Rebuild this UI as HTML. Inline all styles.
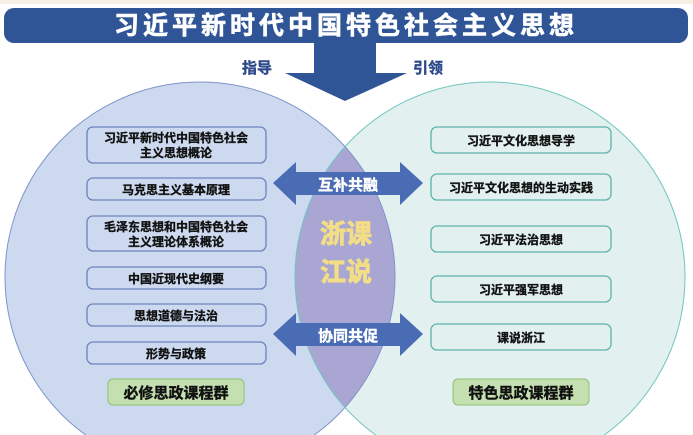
<!DOCTYPE html>
<html><head><meta charset="utf-8"><style>
html,body{margin:0;padding:0;width:693px;height:435px;overflow:hidden;background:#fff;}
svg{display:block;}
svg text{font-family:"Liberation Sans","Noto Sans CJK SC",sans-serif;font-weight:bold;}
</style></head><body><svg width="693" height="435" viewBox="0 0 693 435" xmlns="http://www.w3.org/2000/svg">
<rect x="0" y="0" width="693" height="4" fill="#f7efe6"/>
<path d="M85.7,435 A195,195 0 1 1 314.3,435 Z" fill="#cdd9ef"/>
<path d="M375.7,435 A195,195 0 1 1 604.3,435 Z" fill="#e2f1f0"/>
<path d="M345,146.6 A195,195 0 0 0 345,407.4 A195,195 0 0 0 345,146.6 Z" fill="#a9a6d3"/>
<path d="M85.7,435 A195,195 0 1 1 314.3,435" fill="none" stroke="#7f95c9" stroke-width="1"/>
<path d="M375.7,435 A195,195 0 1 1 604.3,435" fill="none" stroke="#6fc5bd" stroke-width="1"/>
<rect x="4" y="8" width="684" height="35" rx="10" fill="#2f5597"/>
<text x="346" y="34" font-size="25" fill="#fff" text-anchor="middle" letter-spacing="4" stroke="#fff" stroke-width="0.6">习近平新时代中国特色社会主义思想</text>
<polygon points="314,42 376,42 376,73 407,73 345,101 285,73 314,73" fill="#2f5597"/>
<text x="257" y="73" font-size="15" fill="#2f4b8a" text-anchor="middle" stroke="#2f4b8a" stroke-width="0.4">指导</text>
<text x="428" y="73" font-size="15" fill="#2f4b8a" text-anchor="middle" stroke="#2f4b8a" stroke-width="0.4">引领</text>
<g fill="#4a6cb5">
<polygon points="273,183 296,162 296,172 400,172 400,162 423,183 400,205 400,195 296,195 296,205"/>
<polygon points="273,334 296,313 296,323 400,323 400,313 423,334 400,356 400,346 296,346 296,356"/>
</g>
<text x="348" y="190" font-size="15" fill="#fff" text-anchor="middle" stroke="#fff" stroke-width="0.4">互补共融</text>
<text x="348" y="341" font-size="15" fill="#fff" text-anchor="middle" stroke="#fff" stroke-width="0.4">协同共促</text>
<g font-size="26" fill="#f3dd86" text-anchor="middle" stroke="#f3dd86" stroke-width="0.9">
<text x="346" y="243">浙课</text>
<text x="346" y="281">江说</text>
</g>
<g fill="none" stroke="#6c84c0" stroke-width="1.3">
<rect x="87" y="127" width="179" height="36" rx="6"/>
<rect x="87" y="178" width="179" height="22" rx="6"/>
<rect x="87" y="216" width="179" height="35" rx="6"/>
<rect x="87" y="267" width="179" height="22" rx="6"/>
<rect x="87" y="304" width="179" height="22" rx="6"/>
<rect x="87" y="342" width="179" height="22" rx="6"/>
</g>
<g fill="none" stroke="#5fb3a9" stroke-width="1.3">
<rect x="431" y="127" width="180" height="26" rx="6"/>
<rect x="431" y="174" width="180" height="26" rx="6"/>
<rect x="431" y="226" width="180" height="26" rx="6"/>
<rect x="431" y="276" width="180" height="26" rx="6"/>
<rect x="431" y="324" width="180" height="26" rx="6"/>
</g>
<rect x="108" y="379" width="136" height="26" rx="5" fill="#c5e0b0" stroke="#8fbf73"/>
<rect x="453" y="379" width="136" height="26" rx="5" fill="#c5e0b0" stroke="#8fbf73"/>
<g font-size="12" fill="#111" text-anchor="middle" stroke="#111" stroke-width="0.35">
<text x="176" y="142">习近平新时代中国特色社会</text>
<text x="176" y="157">主义思想概论</text>
<text x="176" y="194">马克思主义基本原理</text>
<text x="176" y="231">毛泽东思想和中国特色社会</text>
<text x="176" y="246">主义理论体系概论</text>
<text x="176" y="283">中国近现代史纲要</text>
<text x="176" y="320">思想道德与法治</text>
<text x="176" y="358">形势与政策</text>
<text x="521" y="145">习近平文化思想导学</text>
<text x="521" y="192">习近平文化思想的生动实践</text>
<text x="521" y="244">习近平法治思想</text>
<text x="521" y="294">习近平强军思想</text>
<text x="521" y="342">课说浙江</text>
</g>
<g font-size="15" fill="#111" text-anchor="middle" stroke="#111" stroke-width="0.4">
<text x="176" y="398">必修思政课程群</text>
<text x="521" y="398">特色思政课程群</text>
</g>
</svg></body></html>
